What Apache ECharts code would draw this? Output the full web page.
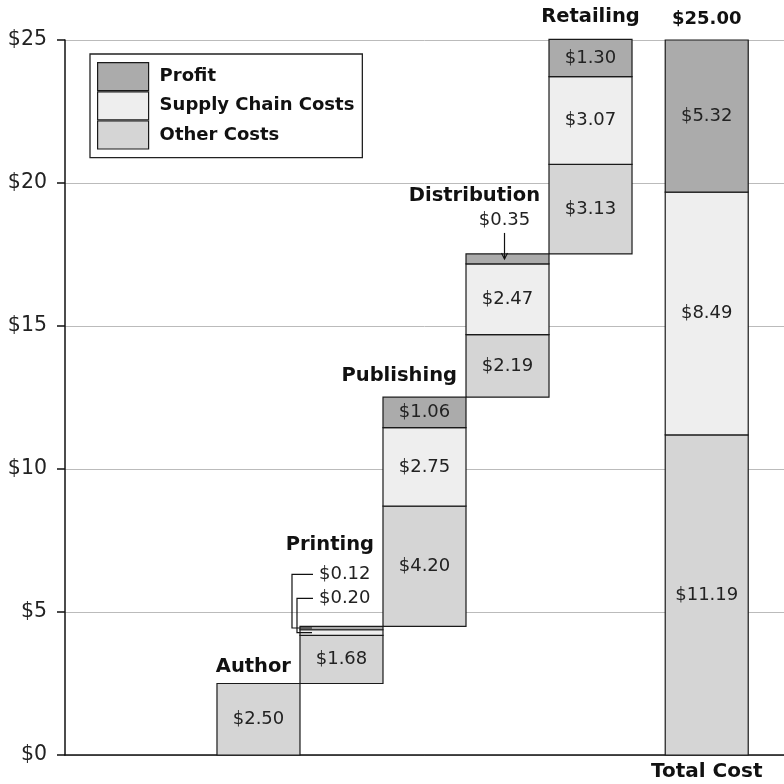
<!DOCTYPE html>
<html>
<head>
<meta charset="utf-8">
<script src="https://cdn.jsdelivr.net/npm/echarts@6/dist/echarts.min.js"></script>
<style>html,body{margin:0;padding:0;background:#fff}#c{width:784px;height:784px}</style>
</head>
<body>
<div id="c"></div>
<script>
// ---- data ----
const stages = ['Author', 'Printing', 'Publishing', 'Distribution', 'Retailing'];
const otherCosts = [2.50, 1.68, 4.20, 2.19, 3.13];
const supplyChainCosts = [0, 0.20, 2.75, 2.47, 3.07];
const profits = [0, 0.12, 1.06, 0.35, 1.30];
const totalName = 'Total Cost';
const totalOther = 11.19;
const totalSupply = 8.49;
const totalProfit = 5.32;
const totalValueLabel = '$25.00';
const yTickValues = [0, 5, 10, 15, 20, 25];
const seriesNames = ['Profit', 'Supply Chain Costs', 'Other Costs'];

// ---- layout / style ----
const FONT = 'DejaVu Sans';
const colors = { 'Profit': '#ababab', 'Supply Chain Costs': '#eeeeee', 'Other Costs': '#d5d5d5' };
const TOTAL_X = 5.4;
const nameOffsets = [17, 81, 21, 58, 22];
const NAME_SIZE = 19.5;
const VALUE_SIZE = 18;

const fmt = v => '$' + v.toFixed(2);

// build segments
const segOther = [], segSupply = [], segProfit = [], stageTops = [];
let base = 0;
stages.forEach((s, i) => {
  const o = otherCosts[i], sc = supplyChainCosts[i], p = profits[i];
  segOther.push([i, base, base + o, o]);
  segSupply.push([i, base + o, base + o + sc, sc]);
  segProfit.push([i, base + o + sc, base + o + sc + p, p]);
  base += o + sc + p;
  stageTops.push([i, base]);
});
segOther.push([TOTAL_X, 0, totalOther, totalOther]);
segSupply.push([TOTAL_X, totalOther, totalOther + totalSupply, totalSupply]);
segProfit.push([TOTAL_X, totalOther + totalSupply, totalOther + totalSupply + totalProfit, totalProfit]);

function makeBarRender(color) {
  return function (params, api) {
    const x = api.value(0), y0 = api.value(1), y1 = api.value(2), v = api.value(3);
    if (v <= 0) return null;
    const a = api.coord([x - 0.5, y1]);
    const b = api.coord([x + 0.5, y0]);
    const el = {
      type: 'rect',
      shape: { x: a[0], y: a[1], width: b[0] - a[0], height: b[1] - a[1] },
      style: { fill: color, stroke: '#1a1a1a', lineWidth: 1.2 }
    };
    if (v >= 0.5) {
      el.textContent = { style: { text: fmt(v), fontSize: VALUE_SIZE, fontFamily: FONT, fill: '#222' } };
      el.textConfig = { position: 'inside' };
    }
    return el;
  };
}

const barSeries = [
  { name: 'Other Costs', data: segOther },
  { name: 'Supply Chain Costs', data: segSupply },
  { name: 'Profit', data: segProfit }
].map(s => ({
  type: 'custom', name: s.name, data: s.data,
  itemStyle: { color: colors[s.name], borderColor: '#1a1a1a', borderWidth: 1.2 },
  renderItem: makeBarRender(colors[s.name]),
  encode: { x: 0, y: [1, 2] }, clip: false
}));

const labelSeries = {
  type: 'custom', name: 'stageLabels', data: stageTops, silent: true, clip: false,
  encode: { x: 0, y: 1 },
  renderItem: function (params, api) {
    const i = params.dataIndex;
    const x = api.value(0), top = api.value(1);
    const right = api.coord([x + 0.5, top]);
    const center = api.coord([x, top]);
    const isLast = i === stages.length - 1;
    return {
      type: 'text',
      style: {
        text: stages[i], x: isLast ? center[0] : right[0] - 9, y: center[1] - nameOffsets[i],
        align: isLast ? 'center' : 'right', verticalAlign: 'middle',
        fontSize: NAME_SIZE, fontWeight: 'bold', fontFamily: FONT, fill: '#111'
      }
    };
  }
};

const totalLabelSeries = {
  type: 'custom', name: 'totalLabels', data: [[TOTAL_X, totalOther + totalSupply + totalProfit]], silent: true, clip: false,
  encode: { x: 0, y: 1 },
  renderItem: function (params, api) {
    const top = api.coord([api.value(0), api.value(1)]);
    const bottom = api.coord([api.value(0), 0]);
    return {
      type: 'group', children: [
        { type: 'text', style: { text: totalValueLabel, x: top[0], y: top[1] - 21, align: 'center', verticalAlign: 'middle', fontSize: 18, fontWeight: 'bold', fontFamily: FONT, fill: '#111' } },
        { type: 'text', style: { text: totalName, x: bottom[0], y: bottom[1] + 17, align: 'center', verticalAlign: 'middle', fontSize: 20, fontWeight: 'bold', fontFamily: FONT, fill: '#111' } }
      ]
    };
  }
};

const annotSeries = {
  type: 'custom', name: 'annotations', data: [[0]], silent: true, clip: false,
  renderItem: function (params, api) {
    const ln = { stroke: '#111', lineWidth: 1.2, fill: null };
    const txt = (t, x, y, align) => ({ type: 'text', style: { text: t, x: x, y: y, align: align, verticalAlign: 'middle', fontSize: VALUE_SIZE, fontFamily: FONT, fill: '#222' } });
    // Printing
    const pb = segProfit[1], sb = segSupply[1];
    const left = api.coord([1 - 0.5, pb[2]])[0];
    const top = api.coord([1, pb[2]])[1];
    const yP = api.coord([1, (pb[1] + pb[2]) / 2])[1];
    const yS = api.coord([1, (sb[1] + sb[2]) / 2])[1];
    // Distribution
    const dp = segProfit[3];
    const dx = api.coord([3, dp[2]])[0] - 3;
    const dTop = api.coord([3, dp[2]])[1];
    const dTip = api.coord([3, (dp[1] + dp[2]) / 2])[1];
    return {
      type: 'group', children: [
        txt(fmt(profits[1]), left + 19, top - 52, 'left'),
        txt(fmt(supplyChainCosts[1]), left + 19, top - 28, 'left'),
        { type: 'polyline', shape: { points: [[left + 13, top - 52], [left - 8, top - 52], [left - 8, yP], [left + 12, yP]] }, style: ln },
        { type: 'polyline', shape: { points: [[left + 13, top - 28], [left - 3, top - 28], [left - 3, yS], [left + 12, yS]] }, style: ln },
        txt(fmt(profits[3]), dx, dTop - 34, 'center'),
        { type: 'line', shape: { x1: dx, y1: dTop - 21, x2: dx, y2: dTip }, style: ln },
        { type: 'polyline', shape: { points: [[dx - 3, dTip - 6], [dx, dTip], [dx + 3, dTip - 6]] }, style: ln }
      ]
    };
  }
};

const chart = echarts.init(document.getElementById('c'));
chart.setOption({
  animation: false,
  textStyle: { fontFamily: FONT },
  grid: { left: 65, right: 0, top: 40, bottom: 29 },
  legend: {
    data: seriesNames, orient: 'vertical', left: 90, top: 54,
    itemWidth: 51, itemHeight: 28, itemGap: 0,
    padding: [8, 8, 8, 7], borderColor: '#222', borderWidth: 1.3,
    selectedMode: false,
    itemStyle: { borderColor: '#1a1a1a', borderWidth: 1.2 },
    textStyle: { fontSize: 18, fontWeight: 'bold', fontFamily: FONT, color: '#111', padding: [0, 0, 0, 6] },
    icon: 'rect'
  },
  xAxis: {
    type: 'value', min: -2.331, max: 6.331,
    axisLine: { show: true, onZero: false, lineStyle: { color: '#111', width: 1.5 } },
    axisTick: { show: false }, axisLabel: { show: false }, splitLine: { show: false }
  },
  yAxis: {
    type: 'value', min: yTickValues[0], max: yTickValues[yTickValues.length - 1], interval: 5,
    axisLine: { show: true, onZero: false, lineStyle: { color: '#111', width: 1.5 } },
    axisTick: { show: true, length: 8, lineStyle: { color: '#111', width: 1.5 } },
    axisLabel: { formatter: v => '$' + v, fontSize: 20.5, color: '#222', margin: 18, fontFamily: FONT },
    splitLine: { show: true, lineStyle: { color: '#bbbbbb', width: 1 } }
  },
  series: [...barSeries, labelSeries, totalLabelSeries, annotSeries]
});
</script>
</body>
</html>
